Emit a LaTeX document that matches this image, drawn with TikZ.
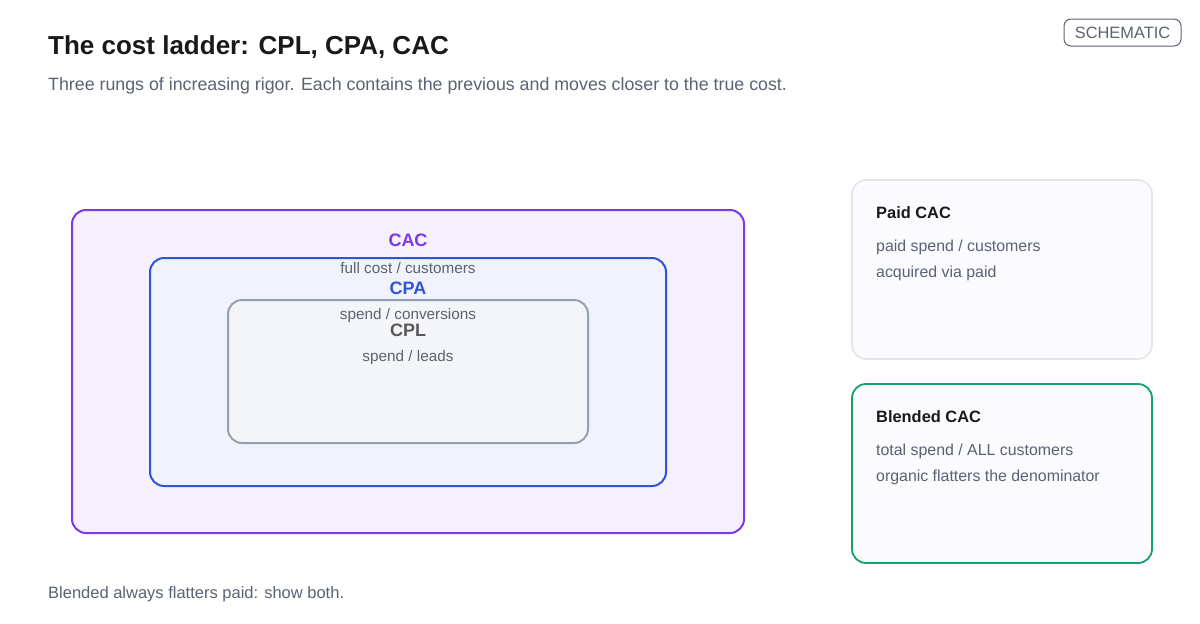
\documentclass[tikz,border=0pt]{standalone}
\usepackage{fontspec}
\setmainfont{Liberation Sans}
\begin{document}
\begin{tikzpicture}[x=1pt,y=-1pt,
  box/.style={draw,line width=2pt,rounded corners=14pt},
  lbl/.style={font=\fontsize{18}{20}\selectfont\bfseries},
  sub/.style={font=\fontsize{15.3}{16}\selectfont,text=txt},
  ttl/.style={anchor=west,inner sep=0pt,font=\fontsize{16.4}{18}\selectfont\bfseries,text=black!90},
  ln/.style={anchor=west,inner sep=0pt,font=\fontsize{15.9}{16}\selectfont,text=txt}]
\definecolor{txt}{HTML}{5B6272}
\definecolor{pur}{HTML}{7C3AED}
\definecolor{blu}{HTML}{2F55D4}
\definecolor{gry}{HTML}{94A0B4}
\definecolor{grn}{HTML}{16A06A}
\useasboundingbox[fill=white] (0,0) rectangle (1200,624);
\node[anchor=west,inner sep=0pt,font=\fontsize{26}{28}\selectfont\bfseries,text=black!90] (title) at (48,47) {The cost ladder: CPL, CPA, CAC};
\node[anchor=west,inner sep=0pt,font=\fontsize{17.8}{20}\selectfont,text=txt] (subt) at (48,86) {Three rungs of increasing rigor. Each contains the previous and moves closer to the true cost.};
\node[draw=txt,rounded corners=7pt,line width=1pt,minimum width=117pt,minimum height=27pt,font=\fontsize{16.4}{18}\selectfont,text=txt] (badge) at (1122.5,32.5) {SCHEMATIC};
\draw[box,draw=pur,fill=pur!8] (72,210) rectangle (744,533);
\draw[box,draw=blu,fill=blu!7] (150,258) rectangle (666,486);
\draw[box,draw=gry,fill=gry!10] (228,300) rectangle (588,443);
\node[lbl,text=pur] (cac) at (408,240) {CAC};
\node[sub] (cacs) at (408,268) {full cost / customers};
\node[lbl,text=blu] (cpa) at (408,288) {CPA};
\node[sub] (cpas) at (408,316) {spend / conversions};
\node[lbl,text=black!65] (cpl) at (408,330) {CPL};
\node[sub] (cpls) at (408,358) {spend / leads};
\draw[draw=black!10,fill=blue!2!white,line width=1.6pt,rounded corners=14pt] (852,180) rectangle (1152,359);
\node[ttl] (p) at (876,213) {Paid CAC};
\node[ln] (p1) at (876,247) {paid spend / customers};
\node[ln] (p2) at (876,273) {acquired via paid};
\draw[draw=grn,fill=blue!2!white,line width=1.8pt,rounded corners=14pt] (852,384) rectangle (1152,563);
\node[ttl] (b) at (876,417) {Blended CAC};
\node[ln] (b1) at (876,451) {total spend / ALL customers};
\node[ln] (b2) at (876,477) {organic flatters the denominator};
\node[anchor=west,inner sep=0pt,font=\fontsize{16.5}{17}\selectfont,text=txt] (foot) at (48,594) {Blended always flatters paid: show both.};
\end{tikzpicture}
\end{document}
